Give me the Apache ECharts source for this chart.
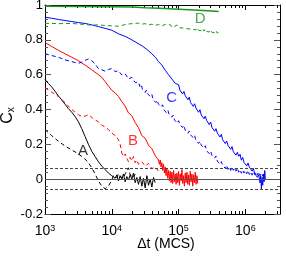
<!DOCTYPE html>
<html><head><meta charset="utf-8">
<script src="https://cdn.jsdelivr.net/npm/echarts@6/dist/echarts.min.js"></script>
<style>html,body{margin:0;padding:0;background:#fff}#c{width:286px;height:256px}</style>
</head><body><div id="c"></div>
<script>
const X_MIN = 1000, X_MAX = 3.3e6, Y_MIN = -0.2, Y_MAX = 1, Y_STEP = 0.2;
const xTickLabels = ['10{sup|3}', '10{sup|4}', '10{sup|5}', '10{sup|6}'];
const refLines = [0, 0.063, -0.063];
const curveLabels = [['A', 3700, 0.16], ['B', 20700, 0.22], ['C', 79000, 0.467], ['D', 210000, 0.92]];

const aSolid = [[1000,0.572],[1122,0.55],[1259,0.53],[1413,0.505],[1585,0.478],[1778,0.455],[1995,0.43],[2239,0.405],[2512,0.385],[2818,0.36],[3162,0.33],[3548,0.29],[3981,0.245],[4467,0.2],[5012,0.16],[5623,0.13],[6310,0.1],[7079,0.075],[7943,0.055],[8913,0.035],[10000,0.02],[10590,0.03],[11220,0.005],[11890,0.025],[12590,-0.01],[13340,0.02],[14130,0.0],[14960,0.03],[15850,-0.015],[16790,0.015],[17780,-0.005],[18840,0.025],[19950,0.0],[21130,0.035],[22390,-0.02],[23710,0.01],[25120,-0.03],[26610,0.015],[28180,-0.04],[29850,0.005],[31620,-0.05],[33500,0.02],[35480,-0.035],[37580,0.0],[39810,-0.045],[42170,0.01],[44670,-0.02]];
const aDashed = [[1000,0.285],[1259,0.25],[1585,0.218],[1995,0.19],[2512,0.168],[3162,0.145],[3981,0.115],[4467,0.095],[5012,0.065],[5623,0.03],[6310,-0.01],[7079,-0.04],[7943,-0.055],[8913,-0.04],[10000,-0.005],[10590,0.02],[11220,0.025],[11890,0.01],[12590,0.03],[13340,0.015],[14130,0.025],[14960,0.005],[15850,0.03],[16790,0.02],[17780,0.065],[18840,0.025],[19950,0.035],[21130,0.01],[22390,0.03]];
const bSolid = [[1000,0.785],[1259,0.762],[1585,0.74],[1995,0.72],[2512,0.7],[3162,0.68],[3981,0.655],[5012,0.628],[6310,0.6],[7079,0.585],[7943,0.56],[8913,0.535],[10000,0.51],[11220,0.495],[12590,0.475],[14130,0.445],[15850,0.42],[17780,0.38],[19950,0.365],[22390,0.325],[25120,0.295],[28180,0.25],[31620,0.235],[35480,0.195],[39810,0.175],[44670,0.135],[50119,0.11],[51580,0.085],[53090,0.11],[54640,0.07],[56230,0.095],[57870,0.05],[59570,0.085],[61310,0.035],[63096,0.07],[64940,0.02],[66830,0.06],[68780,0.005],[70790,0.05],[72860,-0.01],[74990,0.045],[77180,-0.02],[79430,0.04],[81750,-0.025],[84140,0.05],[86600,-0.015],[89130,0.03],[91730,-0.03],[94410,0.035],[97170,-0.02],[100000,0.045],[102900,-0.035],[105900,0.03],[109000,-0.01],[112200,0.055],[115500,-0.025],[118900,0.02],[122300,-0.04],[125900,0.035],[129600,-0.02],[133400,0.04],[137300,-0.03],[141300,0.025],[145400,-0.035],[149600,0.045],[154000,-0.015],[158500,0.03],[163100,-0.04],[167900,0.025],[172800,-0.02],[177800,0.04],[183000,-0.03],[188400,0.02],[193900,-0.025]];
const bDashed = [[1000,0.525],[1259,0.5],[1585,0.475],[1995,0.44],[2512,0.4],[3162,0.37],[3548,0.36],[3981,0.362],[4467,0.37],[5012,0.355],[5623,0.34],[6310,0.33],[7079,0.31],[7943,0.3],[8913,0.285],[10000,0.265],[11220,0.25],[12590,0.227],[13340,0.2],[14130,0.15],[14960,0.13],[15850,0.145],[16790,0.12],[17780,0.1],[18840,0.125],[19950,0.105],[21130,0.13],[22390,0.095],[23710,0.11],[25120,0.085],[28180,0.1],[31620,0.075],[35480,0.09],[39810,0.06],[44670,0.07],[50120,0.045]];
const cSolid = [[1000,0.93],[1259,0.924],[1585,0.917],[1995,0.911],[2512,0.905],[3162,0.899],[3981,0.894],[4467,0.89],[5012,0.886],[6310,0.876],[7943,0.866],[10000,0.855],[12880,0.833],[15850,0.82],[19950,0.8],[25700,0.775],[29000,0.763],[33500,0.745],[39810,0.72],[45000,0.7],[50120,0.675],[56230,0.655],[63100,0.625],[70790,0.6],[79430,0.575],[89130,0.55],
  [100000,0.542],[104700,0.511],[109650,0.52],[114820,0.489],[120230,0.504],[125890,0.479],[131830,0.49],[138040,0.456],[144540,0.471],[151360,0.44],[158490,0.449],[165960,0.418],[173780,0.433],[181970,0.408],[190550,0.419],[199530,0.384],[208930,0.399],[218780,0.368],[229090,0.377],[239880,0.347],[251190,0.362],[263030,0.337],[275420,0.348],[288400,0.313],[302000,0.328],[316230,0.297],[331130,0.306],[346740,0.275],[363080,0.29],[380190,0.265],[398110,0.276],[416870,0.242],[436520,0.257],[457090,0.226],[478630,0.235],[501190,0.204],[524810,0.219],[549540,0.194],[575440,0.205],[602560,0.171],[630960,0.187],[660690,0.157],[691830,0.168],[724440,0.138],[758580,0.154],[794330,0.131],[831760,0.143],[870960,0.109],[912010,0.125],[954990,0.096],[1000000,0.106],[1047100,0.076],[1096500,0.093],[1148200,0.069],[1202300,0.08],[1258900,0.046],[1318300,0.062],[1380400,0.031],[1445400,0.041],[1513600,0.011],[1584900,0.026],[1659600,-0.022],[1698000,0.019],[1737800,-0.055],[1778300,0.01],[1819700,-0.035],[1862100,0.03],[1905500,-0.015],[1949800,0.05],[1995300,-0.005]];
const cDashed = [[1000,0.72],[1259,0.71],[1585,0.7],[1995,0.685],[2512,0.675],[3162,0.665],[3548,0.672],[3981,0.682],[4467,0.69],[5012,0.68],[5623,0.662],[6310,0.635],[7079,0.628],[7943,0.62],[8913,0.63],[10000,0.635],[11220,0.618],[12590,0.622],[14130,0.598],[15850,0.605],[17780,0.575],[19950,0.585],[22390,0.555],[23710,0.565],
  [25119,0.557],[26303,0.532],[27542,0.544],[28840,0.515],[30200,0.524],[31623,0.498],[33113,0.512],[34674,0.489],[36308,0.498],[38019,0.473],[39811,0.486],[41687,0.456],[43652,0.465],[45709,0.44],[47863,0.453],[50119,0.43],[52481,0.44],[54954,0.414],[57544,0.427],[60256,0.398],[63096,0.406],[66069,0.381],[69183,0.395],[72444,0.371],[75858,0.381],[79433,0.356],[83176,0.368],[87096,0.339],[91201,0.348],[95499,0.322],[100000,0.336],[104700,0.313],[109650,0.322],[114820,0.297],[120230,0.309],[125890,0.28],[131830,0.289],[138040,0.263],[144540,0.277],[151360,0.254],[158490,0.263],[165960,0.238],[173780,0.251],[181970,0.221],[190550,0.23],[199530,0.205],[208930,0.218],[218780,0.195],[229090,0.205],[239880,0.179],[251190,0.192],[263030,0.163],[275420,0.171],[288400,0.146],[302000,0.16],[316230,0.136],[331130,0.146],[346740,0.121],[363080,0.133],[380190,0.104],[398110,0.113],[416870,0.087],[436520,0.101],[457090,0.078],[478630,0.087],[501190,0.062],[524810,0.08],[549540,0.056],[575440,0.07],[602560,0.05],[630960,0.069],[660690,0.051],[691830,0.066],[724440,0.046],[758580,0.064],[794330,0.04],[831760,0.054],[870960,0.034],[912010,0.053],[954990,0.035],[1000000,0.05],[1047100,0.031],[1096500,0.05],[1148200,0.027],[1202300,0.042],[1258900,0.023],[1318300,0.043],[1380400,0.026],[1445400,0.042],[1513600,0.023],[1584900,0.042],[1659600,0.02],[1737800,0.036],[1819700,0.018]];
const dSolid = [[1000,0.993],[3162,0.992],[10000,0.99],[19950,0.988],[31620,0.984],[63100,0.98],[100000,0.976],[199500,0.97],[316200,0.965],[398100,0.962]];
const dDashed = [[1000,0.895],[1585,0.893],[2512,0.894],[3981,0.888],[5012,0.884],[6310,0.886],[7943,0.882],[10000,0.88],[12590,0.878],[14130,0.882],[15850,0.888],[19950,0.893],[25120,0.896],[28180,0.89],[31620,0.893],[35480,0.885],[39810,0.89],[44670,0.883],[50120,0.888],[56230,0.88],
  [63096,0.889],[66069,0.879],[69183,0.887],[72444,0.876],[75858,0.886],[79433,0.874],[83176,0.885],[87096,0.872],[91201,0.884],[95499,0.873],[100000,0.882],[104700,0.869],[109650,0.88],[114820,0.868],[120230,0.879],[125890,0.866],[131830,0.877],[138040,0.863],[144540,0.874],[151360,0.862],[158490,0.873],[165960,0.86],[173780,0.871],[181970,0.857],[190550,0.869],[199530,0.855],[208930,0.866],[218780,0.852],[229090,0.864],[239880,0.85],[251190,0.862],[263030,0.848],[275420,0.859],[288400,0.845],[302000,0.857],[316230,0.843],[331130,0.854],[346740,0.84],[363080,0.852],[380190,0.838],[398110,0.847]];

const minorX = [];
for (let e = 3; e <= 6; e++) for (let m = 2; m <= 9; m++) { const v = m * Math.pow(10, e); if (v < X_MAX) minorX.push(v); }

const FONT = 'Liberation Sans, Arial, sans-serif';
const colA = '#000000', colB = '#ff0000', colC = '#0000ff', colD = '#1a961a';
const labelColors = [colA, colB, colC, colD];

function line(name, data, color, dashed, width) {
  return {
    name, type: 'line', data, symbol: 'none', showSymbol: false, animation: false,
    lineStyle: { color, width: width || 1, type: dashed ? [4, 3] : 'solid' }, z: 3
  };
}

const axisCommon = {
  axisLine: { show: true, onZero: false, lineStyle: { color: '#000', width: 1 } },
  splitLine: { show: false },
  nameMoveOverlap: false
};

const chart = echarts.init(document.getElementById('c'), null, { renderer: 'canvas' });
chart.setOption({
  animation: false,
  backgroundColor: '#fff',
  grid: { left: 45, right: 6, top: 5, bottom: 42, containLabel: false, outerBoundsMode: 'none' },
  xAxis: [
    Object.assign({}, axisCommon, {
      type: 'log', logBase: 10, min: X_MIN, max: X_MAX, position: 'bottom',
      axisTick: { show: true, inside: true, length: 5, lineStyle: { color: '#000' } },
      axisLabel: {
        margin: 10, color: '#000', fontSize: 14, fontFamily: FONT,
        formatter: function (v) {
          const e = Math.log10(v), r = Math.round(e);
          if (Math.abs(e - r) > 1e-6) return '';
          return xTickLabels[r - 3] || '';
        },
        rich: { sup: { fontSize: 9, fontFamily: FONT, color: '#000', verticalAlign: 'top', padding: [0, 0, 6, 0] } }
      },
      name: 'Δt (MCS)', nameLocation: 'middle', nameGap: 23,
      nameTextStyle: { color: '#000', fontSize: 14, fontFamily: FONT, padding: [0, 0, 0, 7] }
    }),
    Object.assign({}, axisCommon, {
      type: 'log', logBase: 10, min: X_MIN, max: X_MAX, position: 'top',
      axisTick: { show: true, inside: true, length: 5, lineStyle: { color: '#000' } },
      axisLabel: { show: false }
    })
  ],
  yAxis: [
    Object.assign({}, axisCommon, {
      type: 'value', min: Y_MIN, max: Y_MAX, interval: Y_STEP, position: 'left',
      axisTick: { show: true, inside: true, length: 6, lineStyle: { color: '#555' } },
      minorTick: { show: true, splitNumber: 5, length: 3, lineStyle: { color: '#555' } },
      axisLabel: {
        margin: 2, color: '#000', fontSize: 13, fontFamily: FONT,
        formatter: function (v) { const r = Math.round(v * 10) / 10; return (r === 0 || r === 1) ? String(r) : r.toFixed(1); }
      },
      name: 'C{sub|x}', nameLocation: 'middle', nameGap: 29, nameRotate: 90,
      nameTextStyle: { color: '#000', fontSize: 16, fontFamily: FONT, padding: [0, 12, 0, 0],
        rich: { sub: { fontSize: 10, fontFamily: FONT, color: '#000', verticalAlign: 'bottom', padding: [6, 0, 0, 0] } } }
    }),
    Object.assign({}, axisCommon, {
      type: 'value', min: Y_MIN, max: Y_MAX, interval: Y_STEP, position: 'right',
      axisTick: { show: true, inside: true, length: 6, lineStyle: { color: '#555' } },
      minorTick: { show: true, splitNumber: 5, length: 3, lineStyle: { color: '#555' } },
      axisLabel: { show: false }
    })
  ],
  series: [
    {
      type: 'custom', xAxisIndex: 0, yAxisIndex: 0, silent: true, animation: false, clip: false, z: 1,
      data: minorX.map(v => [v, 0]),
      encode: { x: 0, y: 1 },
      renderItem: function (params, api) {
        const v = api.value(0);
        const b = api.coord([v, Y_MIN]), t = api.coord([v, Y_MAX]);
        const x = Math.round(b[0]) + 0.5;
        return { type: 'group', children: [
          { type: 'line', shape: { x1: x, y1: b[1], x2: x, y2: b[1] - 3 }, style: { stroke: '#000', lineWidth: 1 } },
          { type: 'line', shape: { x1: x, y1: t[1], x2: x, y2: t[1] + 3 }, style: { stroke: '#000', lineWidth: 1 } }
        ] };
      }
    },
    {
      type: 'line', data: [], silent: true, animation: false, z: 1,
      markLine: { silent: true, symbol: 'none', animation: false, label: { show: false },
        data: [
          { yAxis: refLines[0], lineStyle: { color: '#555', width: 1, type: 'solid' } },
          { yAxis: refLines[1], lineStyle: { color: '#444', width: 1, type: [3, 2] } },
          { yAxis: refLines[2], lineStyle: { color: '#444', width: 1, type: [3, 2] } }
        ] }
    },
    line('A solid', aSolid, colA, false),
    line('A dashed', aDashed, colA, true),
    line('B solid', bSolid, colB, false),
    line('B dashed', bDashed, colB, true),
    line('C solid', cSolid, colC, false),
    line('C dashed', cDashed, colC, true),
    line('D solid', dSolid, colD, false, 1.5),
    line('D dashed', dDashed, colD, true),
    {
      type: 'scatter', silent: true, animation: false, symbolSize: 0, z: 5,
      data: curveLabels.map((l, i) => ({ value: [l[1], l[2]],
        label: { show: true, position: 'inside', formatter: l[0], color: labelColors[i], fontSize: 15, fontFamily: FONT } }))
    }
  ]
});
</script>
</body></html>
